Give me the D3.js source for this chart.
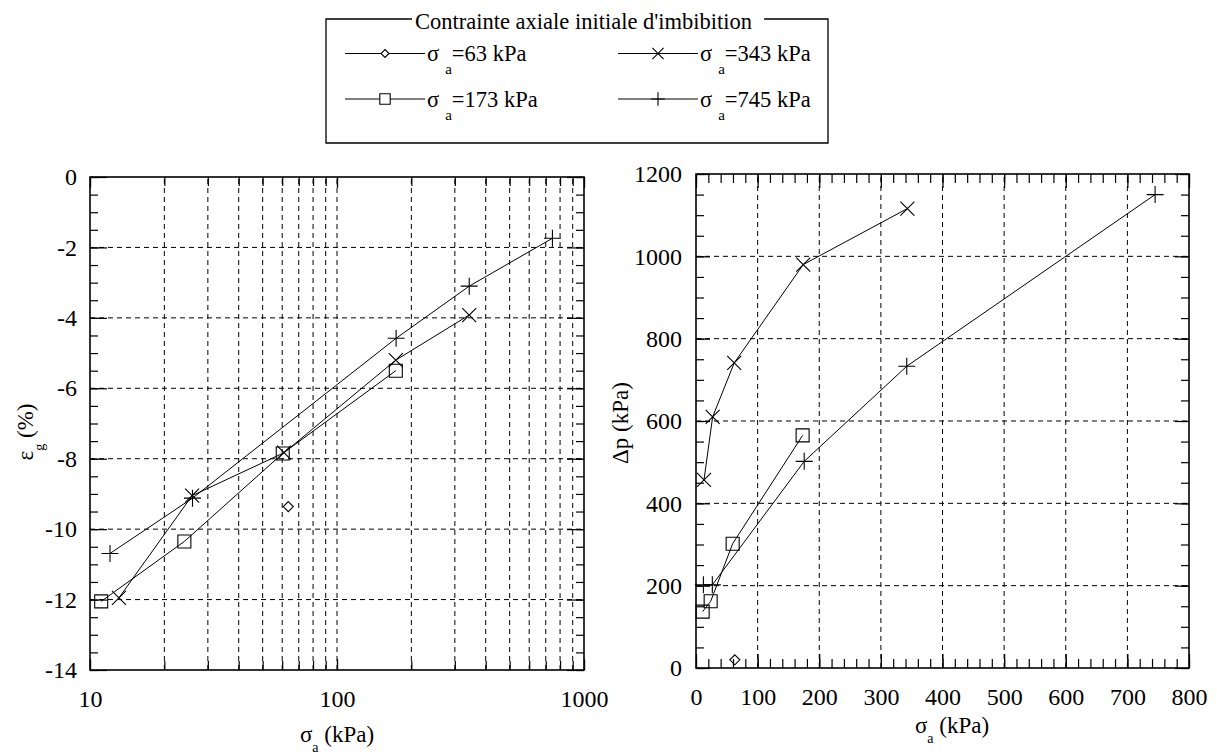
<!DOCTYPE html>
<html><head><meta charset="utf-8">
<script src="https://cdn.jsdelivr.net/npm/d3@7"></script>
<style>body{margin:0;background:#fff} svg text{font-family:"Liberation Serif","Times New Roman",Times,serif;}</style>
</head><body><svg id="c" width="1217" height="756"></svg>
<script>
// ---------------- data ----------------
const legendTitle = "Contrainte axiale initiale d'imbibition";
const stressLabels = ["63", "343", "173", "745"];          // legend order (row-wise)
const markerTypes  = ["diamond", "cross", "square", "plus"];

// left plot : eps_g (%) vs sigma_a (kPa), log x
const eps63_x  = [63.5],                        eps63_y  = [-9.36];
const eps173_x = [11.1, 24.1, 60.3, 173],       eps173_y = [-12.05, -10.35, -7.85, -5.5];
const eps343_x = [13.1, 25.9, 61, 173, 343],    eps343_y = [-11.95, -9.05, -7.83, -5.2, -3.92];
const eps745_x = [12.05, 26, 173.5, 343, 745],  eps745_y = [-10.69, -9.12, -4.58, -3.1, -1.74];

// right plot : delta p (kPa) vs sigma_a (kPa)
const dp63_x  = [63],                           dp63_y  = [20];
const dp173_x = [10.8, 23.8, 59.5, 173],        dp173_y = [137, 162, 302, 565];
const dp343_x = [13, 27, 62, 174, 343],         dp343_y = [457, 610, 741, 980, 1116];
const dp745_x = [12, 26.5, 175.6, 342, 745],    dp745_y = [202, 202, 502, 733, 1150];

const leftXTicks  = [10, 100, 1000];
const leftYTicks  = [0, -2, -4, -6, -8, -10, -12, -14];
const rightXTicks = [0, 100, 200, 300, 400, 500, 600, 700, 800];
const rightYTicks = [0, 200, 400, 600, 800, 1000, 1200];

// ---------------- drawing ----------------
const FONT = "Liberation Serif, Times New Roman, Times, serif";
const svg = d3.select("#c");
svg.append("rect").attr("width",1217).attr("height",756).attr("fill","#fff");

function markerPath(type,k=1){
  if(type==="diamond"){const h=5*k;return `M0,${-h}L${h},0L0,${h}L${-h},0Z`;}
  if(type==="square"){const h=6.5*k;return `M${-h},${-h}H${h}V${h}H${-h}Z`;}
  if(type==="cross"){const h=7*k;return `M${-h},${-h}L${h},${h}M${-h},${h}L${h},${-h}`;}
  const h=8.5*k;return `M${-h},0H${h}M0,${-h}V${h}`;
}
const zip=(a,b)=>a.map((v,i)=>[v,b[i]]);

function panel(opts){
  const {x,y,xMinor,yMinor,xMajor,yMajor,xGrid,yGrid,series,xPad,yPad,majLenX,majLenY}=opts;
  const [x0,x1]=x.range(), [y0,y1]=y.range();
  const g=svg.append("g");
  g.append("g").selectAll("line").data(xGrid).join("line")
    .attr("x1",d=>x(d)).attr("x2",d=>x(d)).attr("y1",y0).attr("y2",y1)
    .attr("stroke","#000").attr("stroke-width",1).attr("stroke-dasharray","5,4");
  g.append("g").selectAll("line").data(yGrid).join("line")
    .attr("y1",d=>y(d)).attr("y2",d=>y(d)).attr("x1",x0).attr("x2",x1)
    .attr("stroke","#000").attr("stroke-width",1).attr("stroke-dasharray","5,4");
  const fmt=d=>String(d);
  const axes=[];
  axes.push(g.append("g").attr("transform",`translate(0,${y0})`).call(d3.axisBottom(x).tickValues(xMinor).tickSize(-9).tickFormat("")));
  axes.push(g.append("g").attr("transform",`translate(0,${y1})`).call(d3.axisTop(x).tickValues(xMinor).tickSize(-9).tickFormat("")));
  axes.push(g.append("g").attr("transform",`translate(${x0},0)`).call(d3.axisLeft(y).tickValues(yMinor).tickSize(-8).tickFormat("")));
  axes.push(g.append("g").attr("transform",`translate(${x1},0)`).call(d3.axisRight(y).tickValues(yMinor).tickSize(-8).tickFormat("")));
  axes.push(g.append("g").attr("transform",`translate(0,${y0})`).call(d3.axisBottom(x).tickValues(xMajor).tickSize(-majLenX).tickPadding(xPad).tickFormat(fmt)));
  axes.push(g.append("g").attr("transform",`translate(0,${y1})`).call(d3.axisTop(x).tickValues(xMajor).tickSize(-majLenX).tickFormat("")));
  axes.push(g.append("g").attr("transform",`translate(${x0},0)`).call(d3.axisLeft(y).tickValues(yMajor).tickSize(-majLenY).tickPadding(yPad).tickFormat(fmt)));
  axes.push(g.append("g").attr("transform",`translate(${x1},0)`).call(d3.axisRight(y).tickValues(yMajor).tickSize(-majLenY).tickFormat("")));
  axes.forEach(a=>{
    a.attr("font-family",FONT).attr("font-size",24);
    a.select(".domain").remove();
    a.selectAll(".tick line").attr("stroke","#000").attr("stroke-width",1.2);
    a.selectAll("text").attr("fill","#000");
  });
  g.append("rect").attr("x",x0).attr("y",y1).attr("width",x1-x0).attr("height",y0-y1)
    .attr("fill","none").attr("stroke","#000").attr("stroke-width",1.6);
  const line=d3.line().x(d=>x(d[0])).y(d=>y(d[1]));
  series.forEach(s=>{
    const pts=zip(s.xs,s.ys);
    if(pts.length>1) g.append("path").attr("d",line(pts)).attr("fill","none").attr("stroke","#000").attr("stroke-width",1);
    g.append("g").selectAll("path").data(pts).join("path")
      .attr("transform",d=>`translate(${x(d[0])},${y(d[1])})`)
      .attr("d",markerPath(s.type)).attr("fill","none").attr("stroke","#000").attr("stroke-width",1.1);
  });
  return g;
}

const xL=d3.scaleLog().domain([10,1000]).range([90,584]);
const yL=d3.scaleLinear().domain([-14,0]).range([670,177]);
panel({x:xL,y:yL,
  xMinor:xL.ticks(), yMinor:d3.range(-14,0.001,0.5),
  xMajor:leftXTicks, yMajor:leftYTicks,
  xGrid:xL.ticks().filter(d=>d>10&&d<1000), yGrid:leftYTicks.filter(d=>d<0&&d>-14),
  xPad:20, yPad:13, majLenX:11, majLenY:17,
  series:[
    {xs:eps63_x,ys:eps63_y,type:"diamond"},
    {xs:eps173_x,ys:eps173_y,type:"square"},
    {xs:eps343_x,ys:eps343_y,type:"cross"},
    {xs:eps745_x,ys:eps745_y,type:"plus"}]});

const xR=d3.scaleLinear().domain([0,800]).range([696,1189]);
const yR=d3.scaleLinear().domain([0,1200]).range([668,174]);
panel({x:xR,y:yR,
  xMinor:d3.range(0,801,20), yMinor:d3.range(0,1201,50),
  xMajor:rightXTicks, yMajor:rightYTicks,
  xGrid:rightXTicks.filter(d=>d>0&&d<800), yGrid:rightYTicks.filter(d=>d>0&&d<1200),
  xPad:20, yPad:14, majLenX:14, majLenY:14,
  series:[
    {xs:dp63_x,ys:dp63_y,type:"diamond"},
    {xs:dp173_x,ys:dp173_y,type:"square"},
    {xs:dp343_x,ys:dp343_y,type:"cross"},
    {xs:dp745_x,ys:dp745_y,type:"plus"}]});

function sigmaLabel(xc,yb){
  const t=svg.append("text").attr("x",xc).attr("y",yb).attr("text-anchor","middle")
    .attr("font-family",FONT).attr("font-size",23).attr("fill","#000");
  t.append("tspan").text("σ");
  t.append("tspan").attr("dy",10).attr("font-size",14).text("a");
  t.append("tspan").attr("dy",-10).text(" (kPa)");
}
sigmaLabel(337,742);
sigmaLabel(952,733);

const ly=svg.append("text").attr("transform","translate(33,432) rotate(-90)").attr("text-anchor","middle")
  .attr("font-family",FONT).attr("font-size",23).attr("fill","#000");
ly.append("tspan").text("ε");
ly.append("tspan").attr("dy",11).attr("font-size",14).text("g");
ly.append("tspan").attr("dy",-11).text(" (%)");

svg.append("text").attr("transform","translate(628,423) rotate(-90)").attr("text-anchor","middle")
  .attr("font-family",FONT).attr("font-size",23).attr("fill","#000").text("Δp (kPa)");

const L={x0:326,x1:828,y0:19,y1:143};
const lg=svg.append("g");
const title=lg.append("text").attr("x",415).attr("y",28.5).attr("font-family",FONT).attr("font-size",22.5).attr("fill","#000").text(legendTitle);
const tb=title.node().getBBox();
lg.append("path").attr("d",`M${tb.x-3},${L.y0}H${L.x0}V${L.y1}H${L.x1}V${L.y0}H${tb.x+tb.width+12}`)
  .attr("fill","none").attr("stroke","#000").attr("stroke-width",1.3);
const entryPos=[{lx:345,ly:53.5},{lx:618,ly:53.5},{lx:345,ly:99},{lx:618,ly:99}];
stressLabels.forEach((lab,i)=>{
  const p=entryPos[i];
  lg.append("line").attr("x1",p.lx).attr("x2",p.lx+80).attr("y1",p.ly).attr("y2",p.ly).attr("stroke","#000").attr("stroke-width",1);
  lg.append("path").attr("transform",`translate(${p.lx+40},${p.ly})`).attr("d",markerPath(markerTypes[i],0.8))
    .attr("fill","#fff").attr("stroke","#000").attr("stroke-width",1.1);
  const t=lg.append("text").attr("x",p.lx+82).attr("y",p.ly+7.5).attr("font-family",FONT).attr("font-size",22.5).attr("fill","#000");
  t.append("tspan").text("σ");
  t.append("tspan").attr("dx",6).attr("dy",13).attr("font-size",15).text("a");
  t.append("tspan").attr("dy",-13).text("="+lab+" kPa");
});
</script></body></html>
